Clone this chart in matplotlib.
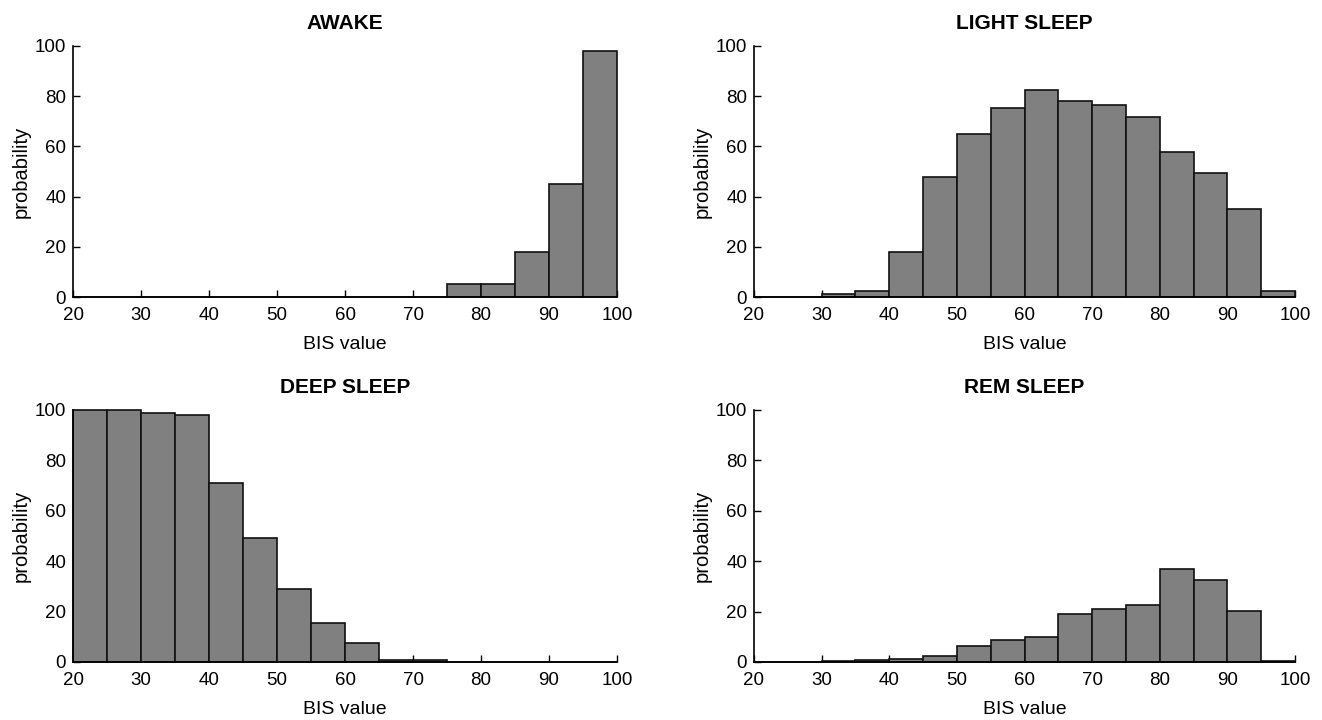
import matplotlib
matplotlib.use('Agg')
import matplotlib.pyplot as plt
import numpy as np

plt.rcParams['font.family'] = ['Liberation Sans', 'DejaVu Sans']

# bin left edges (BIS value, width 5)
bin_edges = [20, 25, 30, 35, 40, 45, 50, 55, 60, 65, 70, 75, 80, 85, 90, 95]
bin_width = 5

awake = [0, 0, 0, 0, 0, 0, 0, 0, 0, 0, 0, 5.0, 5.0, 18.0, 45.0, 98.1]
light_sleep = [0, 0, 1.0, 2.4, 18.0, 48.0, 65.0, 75.3, 82.3, 78.2, 76.6, 71.9, 57.8, 49.3, 35.2, 2.2]
deep_sleep = [100, 100, 98.9, 98.0, 71.0, 49.4, 28.8, 15.5, 7.4, 0.9, 0.9, 0, 0, 0, 0, 0]
rem_sleep = [0, 0, 0.4, 0.9, 1.3, 2.4, 6.5, 8.7, 9.9, 19.2, 21.0, 22.5, 37.1, 32.5, 20.1, 0.4]

panels = [
    ("AWAKE", awake),
    ("LIGHT SLEEP", light_sleep),
    ("DEEP SLEEP", deep_sleep),
    ("REM SLEEP", rem_sleep),
]

W, H = 1322, 720
fig = plt.figure(figsize=(W / 100, H / 100), dpi=100)

# axes boxes in pixels: (left, right, y of 100, y of 0)
boxes = [
    (73, 617, 46, 297),
    (754, 1295, 46, 297),
    (73, 617, 410, 662),
    (754, 1295, 410, 662),
]

for (title, vals), (l, r, t, b) in zip(panels, boxes):
    ax = fig.add_axes([l / W, 1 - b / H, (r - l) / W, (b - t) / H])
    ax.bar(bin_edges, vals, width=bin_width, align='edge', color='#808080',
           edgecolor='#111111', linewidth=1.2, clip_on=False, zorder=3)
    ax.set_xlim(20, 100)
    ax.set_ylim(0, 100)
    ax.set_xticks(np.arange(20, 101, 10))
    ax.set_yticks(np.arange(0, 101, 20))
    ax.spines['top'].set_visible(False)
    ax.spines['right'].set_visible(False)
    for s in ('left', 'bottom'):
        ax.spines[s].set_linewidth(1.2)
        ax.spines[s].set_zorder(4)
    ax.tick_params(direction='in', length=5, width=1.0, labelsize=13.5)
    ax.tick_params(axis='x', pad=7)
    ax.tick_params(axis='y', pad=5)
    ax.set_title(title, fontsize=15, fontweight='bold', pad=12)
    ax.set_xlabel('BIS value', fontsize=14, labelpad=9)
    ax.set_ylabel('probability', fontsize=14.5, labelpad=3)

plt.savefig('out.png', dpi=100)
